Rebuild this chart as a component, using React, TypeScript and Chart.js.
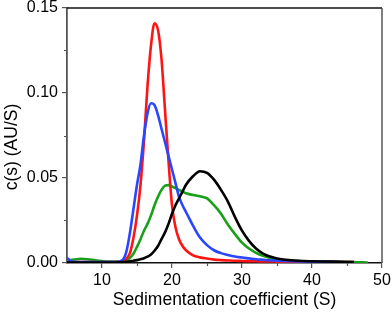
import React, { useEffect, useRef } from "react";
import { Chart, registerables } from "chart.js";

Chart.register(...registerables);

const sValues = [5, 5.5, 6, 7, 8, 9, 10, 11, 12, 13, 13.5, 14, 14.5, 15, 15.5, 16, 16.5, 17, 17.5, 18, 18.5, 19, 19.5, 20, 20.5, 21, 21.5, 22, 23, 24, 25, 26, 27, 28, 29, 30, 31, 32, 33, 34, 35, 37, 40, 43, 46, 48];

const redSeries = [0.0006, 0.0006, 0.0005, 0.0005, 0.0005, 0.0005, 0.0005, 0.0005, 0.0006, 0.001, 0.0025, 0.006, 0.015, 0.028, 0.046, 0.072, 0.104, 0.128, 0.141, 0.137, 0.12, 0.09, 0.06, 0.034, 0.021, 0.014, 0.01, 0.0075, 0.0045, 0.0033, 0.0026, 0.002, 0.0017, 0.0015, 0.0013, 0.0012, 0.001, 0.001, 0.0009, 0.0009, 0.0008, 0.0007, 0.0006, 0.0006, 0.0005, null];

const blueSeries = [0.003, 0.0012, 0.0006, 0.0005, 0.0005, 0.0005, 0.0005, 0.0005, 0.0005, 0.002, 0.007, 0.018, 0.032, 0.046, 0.058, 0.075, 0.088, 0.094, 0.093, 0.087, 0.079, 0.071, 0.063, 0.055, 0.047, 0.039, 0.034, 0.03, 0.022, 0.015, 0.0105, 0.0075, 0.0058, 0.0047, 0.0038, 0.0032, 0.0027, 0.0022, 0.0019, 0.0016, 0.0014, 0.0011, 0.0008, 0.0006, 0.0004, null];

const blackSeries = [0.0003, 0.0003, 0.0003, 0.0003, 0.0003, 0.0003, 0.0003, 0.0003, 0.0003, 0.0005, 0.0007, 0.001, 0.0013, 0.0017, 0.0022, 0.0028, 0.0037, 0.005, 0.0072, 0.01, 0.014, 0.018, 0.023, 0.029, 0.034, 0.038, 0.042, 0.046, 0.051, 0.054, 0.053, 0.049, 0.043, 0.036, 0.027, 0.019, 0.013, 0.0085, 0.0055, 0.0038, 0.0027, 0.0016, 0.001, 0.0008, 0.0005, null];

const greenSeries = [0.0015, 0.0018, 0.002, 0.0025, 0.0022, 0.0016, 0.0011, 0.0008, 0.0008, 0.001, 0.0016, 0.003, 0.0055, 0.0095, 0.014, 0.019, 0.023, 0.028, 0.034, 0.039, 0.043, 0.0455, 0.0458, 0.045, 0.044, 0.043, 0.042, 0.041, 0.04, 0.0392, 0.038, 0.034, 0.029, 0.0225, 0.017, 0.012, 0.0085, 0.006, 0.0042, 0.003, 0.0022, 0.0013, 0.0009, 0.0007, 0.0006, 0.0002];

const xMajorTicks = [10, 20, 30, 40, 50];
const xMinorTicks = [15, 25, 35, 45];
const yMajorTicks = [0, 0.05, 0.1, 0.15];
const yMinorTicks = [0.025, 0.075, 0.125];

const xTitle = "Sedimentation coefficient (S)";
const yTitle = "c(s) (AU/S)";

const toPoints = (ys: (number | null)[]) =>
  sValues.map((x, i) => ({ x, y: ys[i] }));

const FONT = "'Liberation Sans', Arial, sans-serif";

const framePlugin = {
  id: "frame",
  afterDraw(chart: any) {
    const { ctx, chartArea, scales } = chart;
    const xs = scales.x;
    const ys = scales.y;
    ctx.save();
    ctx.strokeStyle = "#555";
    ctx.lineWidth = 1.2;
    ctx.beginPath();
    for (const v of xMinorTicks) {
      const px = Math.round(xs.getPixelForValue(v)) + 0.5;
      ctx.moveTo(px, chartArea.bottom);
      ctx.lineTo(px, chartArea.bottom + 3);
    }
    for (const v of yMinorTicks) {
      const py = Math.round(ys.getPixelForValue(v)) + 0.5;
      ctx.moveTo(chartArea.left, py);
      ctx.lineTo(chartArea.left - 3, py);
    }
    ctx.stroke();
    ctx.lineWidth = 1.5;
    ctx.strokeStyle = "#111";
    ctx.beginPath();
    ctx.moveTo(chartArea.left, chartArea.top);
    ctx.lineTo(chartArea.right, chartArea.top);
    ctx.stroke();
    ctx.strokeStyle = "#555";
    ctx.beginPath();
    ctx.moveTo(chartArea.right, chartArea.top);
    ctx.lineTo(chartArea.right, chartArea.bottom);
    ctx.stroke();
    ctx.fillStyle = "#000";
    ctx.font = `17.5px ${FONT}`;
    ctx.textAlign = "center";
    ctx.textBaseline = "middle";
    ctx.translate(12.5, 147);
    ctx.rotate(-Math.PI / 2);
    ctx.fillText(yTitle, 0, 0);
    ctx.restore();
  },
};

export default function App() {
  const ref = useRef<HTMLCanvasElement | null>(null);
  useEffect(() => {
    if (!ref.current) return;
    const mk = (label: string, ys: (number | null)[], color: string) => ({
      label,
      data: toPoints(ys),
      borderColor: color,
      backgroundColor: color,
      borderWidth: 2.6,
      pointRadius: 0,
      fill: false,
      cubicInterpolationMode: "monotone" as const,
      spanGaps: false,
    });
    const chart = new Chart(ref.current, {
      type: "line",
      data: {
        datasets: [
          mk("black", blackSeries, "#000000"),
          mk("blue", blueSeries, "#2a46ff"),
          mk("red", redSeries, "#ff1414"),
          mk("green", greenSeries, "#19a019"),
        ],
      },
      options: {
        responsive: false,
        animation: false,
        layout: { padding: { top: 8, right: 10, left: 0, bottom: 0 } },
        plugins: {
          legend: { display: false },
          tooltip: { enabled: false },
        },
        scales: {
          x: {
            type: "linear",
            min: 5,
            max: 50,
            afterBuildTicks: (scale: any) => {
              scale.ticks = xMajorTicks.map((v) => ({ value: v }));
            },
            afterFit: (scale: any) => {
              scale.height = 51;
              scale.paddingRight = 0;
            },
            grid: {
              drawOnChartArea: false,
              drawTicks: true,
              tickLength: 5,
              color: "#555",
              lineWidth: 1.2,
            },
            border: { display: true, color: "#111", width: 1.5 },
            ticks: {
              color: "#000",
              font: { size: 16, family: FONT },
              padding: 3,
              maxRotation: 0,
            },
            title: {
              display: true,
              text: xTitle,
              color: "#000",
              font: { size: 17.5, family: FONT },
              padding: { top: 0, bottom: 3 },
            },
          },
          y: {
            type: "linear",
            min: 0,
            max: 0.15,
            afterBuildTicks: (scale: any) => {
              scale.ticks = yMajorTicks.map((v) => ({ value: v }));
            },
            afterFit: (scale: any) => {
              scale.width = 67;
              scale.paddingTop = 0;
              scale.paddingBottom = 0;
            },
            grid: {
              drawOnChartArea: false,
              drawTicks: true,
              tickLength: 5,
              color: "#555",
              lineWidth: 1.2,
            },
            border: { display: true, color: "#555", width: 1.8 },
            ticks: {
              color: "#000",
              font: { size: 16, family: FONT, lineHeight: 1 },
              padding: 4,
              callback: (v: any) => Number(v).toFixed(2),
            },
          },
        },
      },
      plugins: [framePlugin],
    });
    return () => chart.destroy();
  }, []);
  return (
    <canvas
      ref={ref}
      width={392}
      height={314}
      style={{ position: "absolute", left: 0, top: 0, display: "block", background: "#fff" }}
    />
  );
}
